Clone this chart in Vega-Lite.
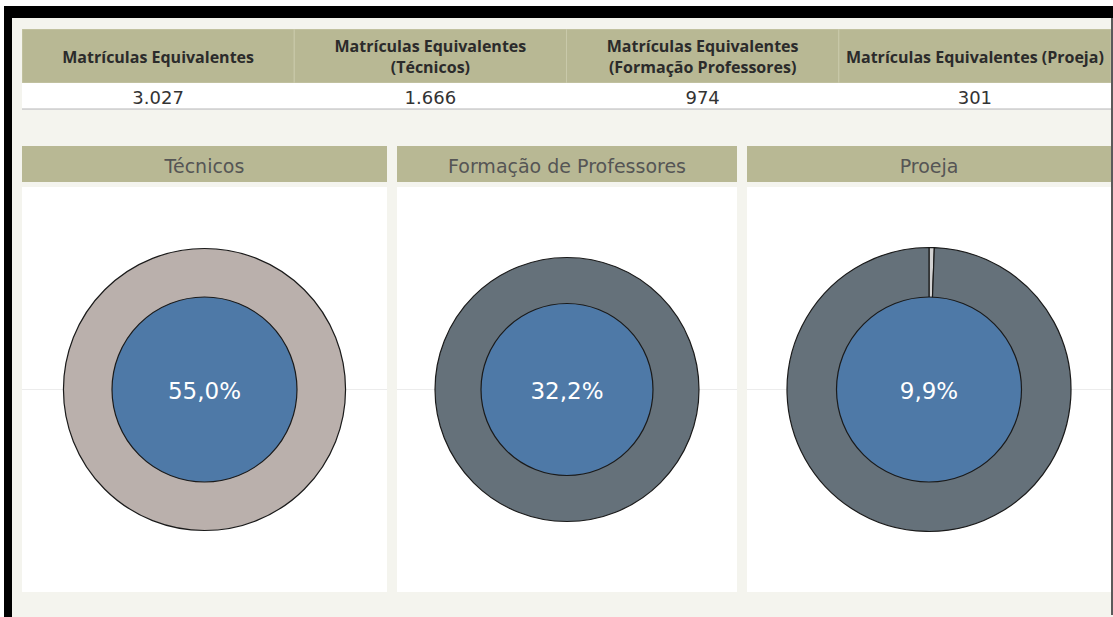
{
  "$schema": "https://vega.github.io/schema/vega-lite/v6.json",
  "background": "#F4F4EE",
  "padding": 0,
  "config": {
    "view": {"stroke": null},
    "locale": {"number": {"decimal": ",", "thousands": ".", "grouping": [3], "currency": ["R$", ""]}}
  },
  "datasets": {
    "table": [
      {"medida": "Matrículas Equivalentes", "valor": 3027},
      {"medida": "Matrículas Equivalentes\n(Técnicos)", "valor": 1666},
      {"medida": "Matrículas Equivalentes\n(Formação Professores)", "valor": 974},
      {"medida": "Matrículas Equivalentes (Proeja)", "valor": 301}
    ],
    "panels": [
      {"panel": "Técnicos", "pct": 0.5504},
      {"panel": "Formação de Professores", "pct": 0.3218},
      {"panel": "Proeja", "pct": 0.0994}
    ],
    "rings": [
      {"panel": "Técnicos", "part": "Técnicos", "share": 1},
      {"panel": "Formação de Professores", "part": "Formação de Professores", "share": 1},
      {"panel": "Proeja", "part": "Outros", "share": 0.006},
      {"panel": "Proeja", "part": "Proeja", "share": 0.994}
    ]
  },
  "spacing": 0,
  "vconcat": [
    {"width": 1113, "height": 6, "view": {"fill": "#FFFFFF"}, "data": {"values": [{}]}, "mark": {"type": "rect", "opacity": 0}, "encoding": {}},
    {
      "spacing": 0,
      "hconcat": [
        {"width": 4, "height": 611, "view": {"fill": "#FFFFFF"}, "data": {"values": [{}]}, "mark": {"type": "rect", "opacity": 0}, "encoding": {}},
        {"width": 8, "height": 611, "view": {"fill": "#000000"}, "data": {"values": [{}]}, "mark": {"type": "rect", "opacity": 0}, "encoding": {}},
        {
          "spacing": 0,
          "vconcat": [
            {"width": 1101, "height": 12, "view": {"fill": "#000000"}, "data": {"values": [{}]}, "mark": {"type": "rect", "opacity": 0}, "encoding": {}},
            {
              "spacing": 0,
              "hconcat": [
                {"width": 10, "height": 1, "data": {"values": [{}]}, "mark": {"type": "rect", "opacity": 0}, "encoding": {}},
                {
                  "spacing": 0,
                  "vconcat": [
                    {"width": 1, "height": 11, "data": {"values": [{}]}, "mark": {"type": "rect", "opacity": 0}, "encoding": {}},
                    {
                      "width": 1089, "height": 54,
                      "data": {"name": "table"},
                      "view": {"fill": "#B8B894"},
                      "layer": [
                        {
                          "mark": {"type": "rect", "fill": "#B8B894", "stroke": "#C9C9AA", "strokeWidth": 1, "clip": true},
                          "encoding": {"x": {"field": "medida", "type": "nominal", "sort": null, "scale": {"paddingInner": 0, "paddingOuter": 0}, "axis": null}}
                        },
                        {
                          "transform": [{"filter": "indexof(datum.medida, '\\n') < 0"}],
                          "mark": {"type": "text", "font": "Open Sans", "fontWeight": "bold", "fontSize": 16, "color": "#2B2B2B", "dy": 2},
                          "encoding": {
                            "x": {"field": "medida", "type": "nominal", "sort": null, "axis": null},
                            "text": {"field": "medida", "type": "nominal"}
                          }
                        },
                        {
                          "transform": [{"filter": "indexof(datum.medida, '\\n') >= 0"}],
                          "mark": {"type": "text", "font": "Open Sans", "fontWeight": "bold", "fontSize": 16, "color": "#2B2B2B", "lineBreak": "\n", "lineHeight": 21, "dy": -9},
                          "encoding": {
                            "x": {"field": "medida", "type": "nominal", "sort": null, "axis": null},
                            "text": {"field": "medida", "type": "nominal"}
                          }
                        }
                      ]
                    },
                    {
                      "width": 1089, "height": 27,
                      "data": {"name": "table"},
                      "view": {"fill": "#FFFFFF"},
                      "layer": [
                        {
                          "mark": {"type": "text", "font": "DejaVu Sans", "fontSize": 18, "color": "#333333", "dy": 2},
                          "encoding": {
                            "x": {"field": "medida", "type": "nominal", "sort": null, "scale": {"paddingInner": 0, "paddingOuter": 0}, "axis": null},
                            "text": {"field": "valor", "type": "quantitative", "format": ",d"}
                          }
                        },
                        {
                          "mark": {"type": "rule", "color": "#D3D3D3", "strokeWidth": 1, "clip": true},
                          "encoding": {"y": {"datum": 0.03, "type": "quantitative", "scale": {"domain": [0, 1]}, "axis": null}}
                        }
                      ]
                    },
                    {"width": 1, "height": 36, "data": {"values": [{}]}, "mark": {"type": "rect", "opacity": 0}, "encoding": {}},
                    {
                      "spacing": 10,
                      "hconcat": [
                        {
                          "spacing": 5,
                          "bounds": "flush",
                          "vconcat": [
                            {
                              "width": 365, "height": 36,
                              "view": {"fill": "#B8B894"},
                              "data": {"name": "panels"},
                              "transform": [{"filter": "datum.panel === 'Técnicos'"}],
                              "mark": {"type": "text", "font": "DejaVu Sans", "fontSize": 19, "color": "#555555", "dy": 3},
                              "encoding": {"text": {"field": "panel", "type": "nominal"}}
                            },
                            {
                              "width": 365, "height": 405,
                              "view": {"fill": "#FFFFFF"},
                              "layer": [
                                {
                                  "data": {"name": "panels"},
                                  "transform": [{"filter": "datum.panel === 'Técnicos'"}],
                                  "mark": {"type": "rule", "color": "#ECECEC", "strokeWidth": 1, "clip": true},
                                  "encoding": {"y": {"datum": 0, "type": "quantitative", "scale": {"domain": [-1, 1]}, "axis": null}}
                                },
                                {
                                  "data": {"name": "rings"},
                                  "transform": [{"filter": "datum.panel === 'Técnicos'"}],
                                  "mark": {"type": "arc", "outerRadius": 141, "stroke": "#1A1A1A", "strokeWidth": 1.2},
                                  "encoding": {
                                    "theta": {"field": "share", "type": "quantitative", "stack": true},
                                    "order": {"field": "part", "sort": "ascending"},
                                    "color": {"field": "part", "type": "nominal", "legend": null,
                                      "scale": {"domain": ["Técnicos", "Formação de Professores", "Proeja", "Outros"], "range": ["#BAB0AC", "#65717A", "#65717A", "#D2D2D2"]}}
                                  }
                                },
                                {
                                  "data": {"name": "panels"},
                                  "transform": [{"filter": "datum.panel === 'Técnicos'"}],
                                  "mark": {"type": "arc", "theta": 0, "theta2": 6.2832, "outerRadius": 92.5, "innerRadius": 0, "fill": "#4E79A7", "stroke": "#1A1A1A", "strokeWidth": 1.2},
                                  "encoding": {}
                                },
                                {
                                  "data": {"name": "panels"},
                                  "transform": [{"filter": "datum.panel === 'Técnicos'"}],
                                  "mark": {"type": "text", "font": "DejaVu Sans", "fontSize": 23, "color": "#FFFFFF", "dy": 2},
                                  "encoding": {"text": {"field": "pct", "type": "quantitative", "format": ".1%"}}
                                }
                              ]
                            }
                          ]
                        },
                        {
                          "spacing": 5,
                          "bounds": "flush",
                          "vconcat": [
                            {
                              "width": 340, "height": 36,
                              "view": {"fill": "#B8B894"},
                              "data": {"name": "panels"},
                              "transform": [{"filter": "datum.panel === 'Formação de Professores'"}],
                              "mark": {"type": "text", "font": "DejaVu Sans", "fontSize": 19, "color": "#555555", "dy": 3},
                              "encoding": {"text": {"field": "panel", "type": "nominal"}}
                            },
                            {
                              "width": 340, "height": 405,
                              "view": {"fill": "#FFFFFF"},
                              "layer": [
                                {
                                  "data": {"name": "panels"},
                                  "transform": [{"filter": "datum.panel === 'Formação de Professores'"}],
                                  "mark": {"type": "rule", "color": "#ECECEC", "strokeWidth": 1, "clip": true},
                                  "encoding": {"y": {"datum": 0, "type": "quantitative", "scale": {"domain": [-1, 1]}, "axis": null}}
                                },
                                {
                                  "data": {"name": "rings"},
                                  "transform": [{"filter": "datum.panel === 'Formação de Professores'"}],
                                  "mark": {"type": "arc", "outerRadius": 132, "stroke": "#1A1A1A", "strokeWidth": 1.2},
                                  "encoding": {
                                    "theta": {"field": "share", "type": "quantitative", "stack": true},
                                    "order": {"field": "part", "sort": "ascending"},
                                    "color": {"field": "part", "type": "nominal", "legend": null,
                                      "scale": {"domain": ["Técnicos", "Formação de Professores", "Proeja", "Outros"], "range": ["#BAB0AC", "#65717A", "#65717A", "#D2D2D2"]}}
                                  }
                                },
                                {
                                  "data": {"name": "panels"},
                                  "transform": [{"filter": "datum.panel === 'Formação de Professores'"}],
                                  "mark": {"type": "arc", "theta": 0, "theta2": 6.2832, "outerRadius": 86, "innerRadius": 0, "fill": "#4E79A7", "stroke": "#1A1A1A", "strokeWidth": 1.2},
                                  "encoding": {}
                                },
                                {
                                  "data": {"name": "panels"},
                                  "transform": [{"filter": "datum.panel === 'Formação de Professores'"}],
                                  "mark": {"type": "text", "font": "DejaVu Sans", "fontSize": 23, "color": "#FFFFFF", "dy": 2},
                                  "encoding": {"text": {"field": "pct", "type": "quantitative", "format": ".1%"}}
                                }
                              ]
                            }
                          ]
                        },
                        {
                          "spacing": 5,
                          "bounds": "flush",
                          "vconcat": [
                            {
                              "width": 364, "height": 36,
                              "view": {"fill": "#B8B894"},
                              "data": {"name": "panels"},
                              "transform": [{"filter": "datum.panel === 'Proeja'"}],
                              "mark": {"type": "text", "font": "DejaVu Sans", "fontSize": 19, "color": "#555555", "dy": 3},
                              "encoding": {"text": {"field": "panel", "type": "nominal"}}
                            },
                            {
                              "width": 364, "height": 405,
                              "view": {"fill": "#FFFFFF"},
                              "layer": [
                                {
                                  "data": {"name": "panels"},
                                  "transform": [{"filter": "datum.panel === 'Proeja'"}],
                                  "mark": {"type": "rule", "color": "#ECECEC", "strokeWidth": 1, "clip": true},
                                  "encoding": {"y": {"datum": 0, "type": "quantitative", "scale": {"domain": [-1, 1]}, "axis": null}}
                                },
                                {
                                  "data": {"name": "rings"},
                                  "transform": [{"filter": "datum.panel === 'Proeja'"}],
                                  "mark": {"type": "arc", "outerRadius": 142, "stroke": "#1A1A1A", "strokeWidth": 1.2},
                                  "encoding": {
                                    "theta": {"field": "share", "type": "quantitative", "stack": true},
                                    "order": {"field": "part", "sort": "ascending"},
                                    "color": {"field": "part", "type": "nominal", "legend": null,
                                      "scale": {"domain": ["Técnicos", "Formação de Professores", "Proeja", "Outros"], "range": ["#BAB0AC", "#65717A", "#65717A", "#D2D2D2"]}}
                                  }
                                },
                                {
                                  "data": {"name": "panels"},
                                  "transform": [{"filter": "datum.panel === 'Proeja'"}],
                                  "mark": {"type": "arc", "theta": 0, "theta2": 6.2832, "outerRadius": 92.5, "innerRadius": 0, "fill": "#4E79A7", "stroke": "#1A1A1A", "strokeWidth": 1.2},
                                  "encoding": {}
                                },
                                {
                                  "data": {"name": "panels"},
                                  "transform": [{"filter": "datum.panel === 'Proeja'"}],
                                  "mark": {"type": "text", "font": "DejaVu Sans", "fontSize": 23, "color": "#FFFFFF", "dy": 2},
                                  "encoding": {"text": {"field": "pct", "type": "quantitative", "format": ".1%"}}
                                }
                              ]
                            }
                          ]
                        }
                      ]
                    },
                    {"width": 1, "height": 25, "data": {"values": [{}]}, "mark": {"type": "rect", "opacity": 0}, "encoding": {}}
                  ]
                },
                {"width": 2, "height": 597, "view": {"fill": "#5A5A5A"}, "data": {"values": [{}]}, "mark": {"type": "rect", "opacity": 0}, "encoding": {}}
              ]
            }
          ]
        }
      ]
    }
  ]
}
